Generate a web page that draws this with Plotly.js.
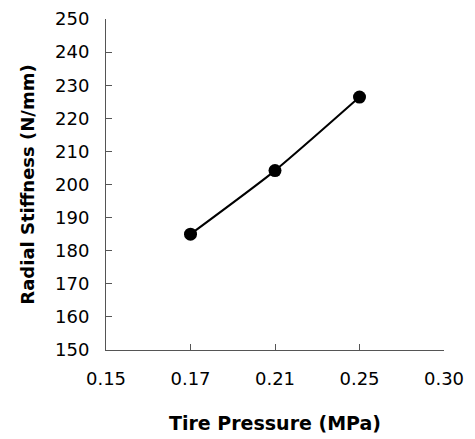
<!DOCTYPE html>
<html>
<head>
<meta charset="utf-8">
<script src="https://cdn.plot.ly/plotly-3.0.1.min.js"></script>
<style>html,body{margin:0;padding:0;background:#fff;}#chart{width:475px;height:439px;}</style>
</head>
<body>
<div id="chart"></div>
<script>
const pressureCategories = ['0.15', '0.17', '0.21', '0.25', '0.30'];
const pressure = ['0.17', '0.21', '0.25'];
const stiffness = [185.0, 204.2, 226.4];
const yTicks = [150, 160, 170, 180, 190, 200, 210, 220, 230, 240, 250];

const axisColor = '#555555';
const tickFont = {family: 'DejaVu Sans, Arial, sans-serif', size: 18, color: '#000'};
const titleFont = {family: 'DejaVu Sans, Arial, sans-serif', size: 18, color: '#000', weight: 'bold'};

const trace = {
  x: pressure,
  y: stiffness,
  type: 'scatter',
  mode: 'lines+markers',
  line: {color: '#000', width: 2, shape: 'spline', smoothing: 0.6},
  marker: {color: '#000', size: 13, symbol: 'circle'},
  showlegend: false,
  hoverinfo: 'skip'
};

const layout = {
  width: 475,
  height: 439,
  margin: {l: 106, r: 31, t: 19, b: 89},
  paper_bgcolor: '#fff',
  plot_bgcolor: '#fff',
  showlegend: false,
  xaxis: {
    type: 'category',
    categoryorder: 'array',
    categoryarray: pressureCategories,
    tickvals: pressureCategories,
    ticktext: pressureCategories,
    range: [0, pressureCategories.length - 1],
    showgrid: false,
    zeroline: false,
    showline: true,
    linecolor: axisColor,
    linewidth: 1,
    ticks: 'inside',
    ticklen: 6,
    tickwidth: 1,
    tickcolor: axisColor,
    tickfont: tickFont,
    ticklabelstandoff: 12,
    title: {text: 'Tire Pressure (MPa)', font: Object.assign({}, titleFont, {size: 19}), standoff: 29}
  },
  yaxis: {
    range: [150, 250],
    tickvals: yTicks,
    ticktext: yTicks.map(String),
    showgrid: false,
    zeroline: false,
    showline: true,
    linecolor: axisColor,
    linewidth: 1,
    ticks: 'inside',
    ticklen: 6,
    tickwidth: 1,
    tickcolor: axisColor,
    tickfont: tickFont,
    ticklabelstandoff: 12,
    title: {text: 'Radial Stiffness (N/mm)', font: titleFont, standoff: 15}
  }
};

Plotly.newPlot('chart', [trace], layout, {staticPlot: true, displayModeBar: false});
</script>
</body>
</html>
